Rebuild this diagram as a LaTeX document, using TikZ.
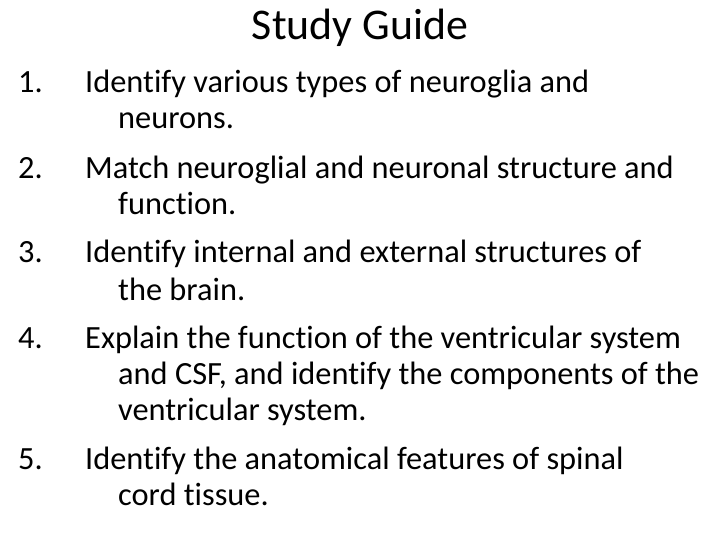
\documentclass[tikz,border=0pt]{standalone}
\usepackage{fontspec}
\setmainfont{Carlito}[Ligatures=NoCommon]
\begin{document}
\begin{tikzpicture}[x=1bp,y=-1bp,
  body/.style={anchor=base west,inner sep=0pt,font=\fontsize{32.5}{38}\selectfont},
  ttl/.style={anchor=base,inner sep=0pt,font=\fontsize{44}{50}\selectfont}]
\useasboundingbox (0,0) rectangle (720,540);
\node[ttl] (t) at (360,40) {Study Guide};
\node[body] (n1) at (18,93) {1.};
\node[body] (l1a) at (85,93) {Identify various types of neuroglia and};
\node[body] (l1b) at (118,129) {neurons.};
\node[body] (n2) at (18,179) {2.};
\node[body] (l2a) at (85,179) {Match neuroglial and neuronal structure and};
\node[body] (l2b) at (118,215) {function.};
\node[body] (n3) at (18,263) {3.};
\node[body] (l3a) at (85,263) {Identify internal and external structures of};
\node[body] (l3b) at (118,300) {the brain.};
\node[body] (n4) at (18,348) {4.};
\node[body] (l4a) at (85,348) {Explain the function of the ventricular system};
\node[body] (l4b) at (118,384) {and CSF, and identify the components of the};
\node[body] (l4c) at (118,420) {ventricular system.};
\node[body] (n5) at (18,469) {5.};
\node[body] (l5a) at (85,469) {Identify the anatomical features of spinal};
\node[body] (l5b) at (118,505) {cord tissue.};
\end{tikzpicture}
\end{document}
